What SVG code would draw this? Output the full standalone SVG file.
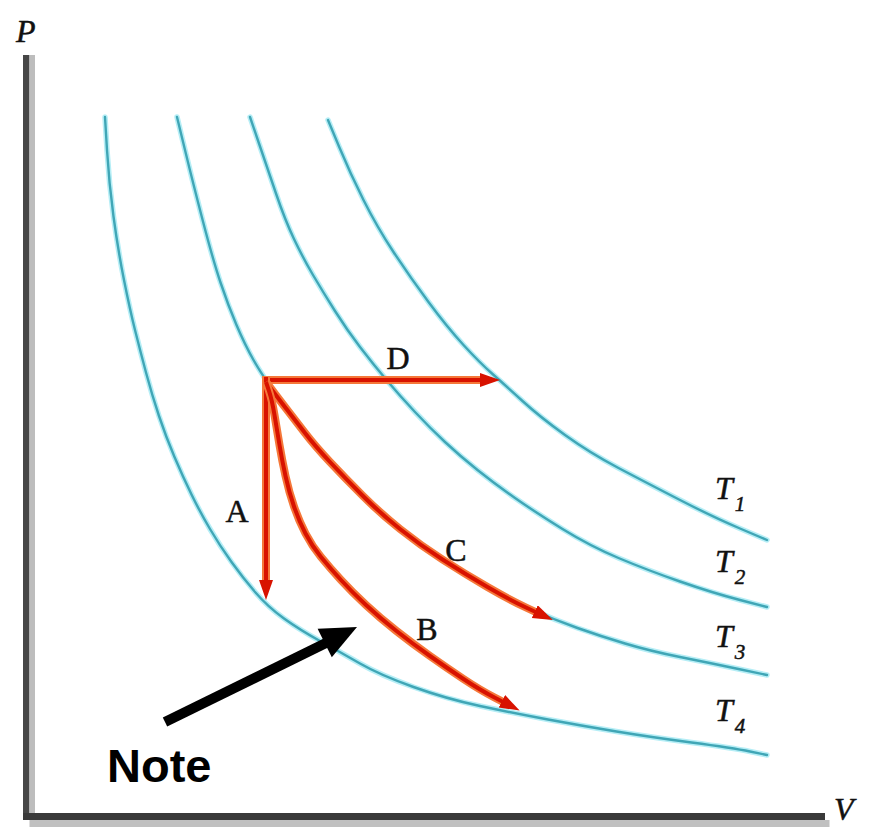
<svg xmlns="http://www.w3.org/2000/svg" width="876" height="831" viewBox="0 0 876 831">
<style>
.iso-halo{fill:none;stroke:#b6eef6;stroke-width:5.5;stroke-linejoin:round;stroke-linecap:round}
.iso{fill:none;stroke:#40a6b6;stroke-width:2.4;stroke-linejoin:round;stroke-linecap:round}
.proc-under{fill:none;stroke:#f5783a;stroke-width:8;stroke-linejoin:round}
.proc{fill:none;stroke:#d81200;stroke-width:4;stroke-linejoin:round}
.lbl{font-family:"Liberation Serif","Times New Roman",serif;font-size:32px;fill:#111;stroke:#111;stroke-width:0.5}
.it{font-style:italic}
.sub{font-size:21px}
.note{font-family:"Liberation Sans",Arial,sans-serif;font-weight:bold;font-size:47px;fill:#000}
</style>
<defs>
<marker id="ah" markerUnits="userSpaceOnUse" markerWidth="22" markerHeight="16" refX="8" refY="7" orient="auto">
<path d="M0,0 L20,7 L0,14 z" fill="#d81200"/>
</marker>
<path id="c4" d="M105,117 L107,150 Q109,183 113.5,216.5 Q118,250 124,280 Q130,310 135,330 Q140,350 146,372.5 Q152,395 159,416 Q166,437 174.5,457 Q183,477 191.5,494.5 Q200,512 210,529 Q220,546 231.5,562 Q243,578 255.5,592.5 Q268,607 284,618.5 Q300,630 320,641 Q340,652 360,663.5 Q380,675 413.5,687 Q447,699 480,706 Q513,713 548,719.5 Q583,726 616.5,731.5 Q650,737 691.5,742.5 Q733,748 750,751.5 L767,755"/>
<path id="c3" d="M177,117 L185,150 Q193,183 203,221.5 Q213,260 220.5,282.5 Q228,305 236.5,325 Q245,345 253.5,360 Q262,375 276,394.5 Q290,414 302.5,430 Q315,446 330,462 Q345,478 362.5,495.5 Q380,513 400,529 Q420,545 442.5,559.5 Q465,574 487.5,587 Q510,600 532.5,610 Q555,620 577.5,628 Q600,636 625,643.5 Q650,651 680,657 Q710,663 738.5,669 L767,675"/>
<path id="c2" d="M250,117 L258.5,142 Q267,167 276,193.5 Q285,220 294,239 Q303,258 313,275 Q323,292 335,311 Q347,330 360,347 Q373,364 386.5,380 Q400,396 415,412 Q430,428 445,442 Q460,456 477.5,470 Q495,484 515,498 Q535,512 562.5,529 Q590,546 618.5,558 Q647,570 680,581.5 Q713,593 740,600 L767,607"/>
<path id="c1" d="M328,120 L339,146.5 Q350,173 363.5,200 Q377,227 393.5,252 Q410,277 428.5,302 Q447,327 463.5,345 Q480,363 492.5,374 Q505,385 522.5,401 Q540,417 565,435 Q590,453 618.5,468 Q647,483 680,500 Q713,517 740,528.5 L767,540"/>
<path id="pC" d="M266,382 L272,390 Q278,398 286.5,409 Q295,420 305,433 Q315,446 330,462 Q345,478 362.5,495.5 Q380,513 400,529 Q420,545 442.5,559.5 Q465,574 487.5,587 Q510,600 526,607.5 L542,615"/>
<path id="pB" d="M266,382 L269,391 Q272,400 274.5,415 Q277,430 279.5,445 Q282,460 285.5,476 Q289,492 294,506.5 Q299,521 305.5,533.5 Q312,546 321,557 Q330,568 341,580 Q352,592 366,605 Q380,618 396.5,631 Q413,644 430,656 Q447,668 463.5,679 Q480,690 494.5,697.5 L509,705"/>
</defs>
<rect width="876" height="831" fill="#ffffff"/>

<g id="axes">
<rect x="23" y="55" width="6.5" height="765" fill="#464646"/>
<rect x="29.5" y="55" width="5.5" height="765" fill="#bdbdbd"/>
<rect x="23" y="813" width="802" height="7" fill="#3a3a3a"/>
<rect x="29.5" y="820" width="800" height="7" fill="#c0c0c0"/>
<text class="lbl it" x="16" y="42" font-size="38">P</text>
<text class="lbl it" x="834" y="820" font-size="32">V</text>
</g>

<g id="isotherm-T4">
<use href="#c4" class="iso-halo"/>
<use href="#c4" class="iso"/>
<text class="lbl it" x="715" y="721">T<tspan class="sub" dx="2" dy="12">4</tspan></text>
</g>
<g id="isotherm-T3">
<use href="#c3" class="iso-halo"/>
<use href="#c3" class="iso"/>
<text class="lbl it" x="715" y="647">T<tspan class="sub" dx="2" dy="12">3</tspan></text>
</g>
<g id="isotherm-T2">
<use href="#c2" class="iso-halo"/>
<use href="#c2" class="iso"/>
<text class="lbl it" x="715" y="572">T<tspan class="sub" dx="2" dy="12">2</tspan></text>
</g>
<g id="isotherm-T1">
<use href="#c1" class="iso-halo"/>
<use href="#c1" class="iso"/>
<text class="lbl it" x="715" y="499">T<tspan class="sub" dx="2" dy="12">1</tspan></text>
</g>

<g id="connectors">
<g id="process-D">
<polyline class="proc-under" points="262,380 488,380"/>
<polyline class="proc" points="262,380 488,380" marker-end="url(#ah)"/>
</g>
<g id="process-A">
<polyline class="proc-under" points="266,377 266,588"/>
<polyline class="proc" points="266,377 266,588" marker-end="url(#ah)"/>
</g>
<g id="process-C">
<use href="#pC" class="proc-under"/>
<path class="proc" d="M266,382 L272,390 Q278,398 286.5,409 Q295,420 305,433 Q315,446 330,462 Q345,478 362.5,495.5 Q380,513 400,529 Q420,545 442.5,559.5 Q465,574 487.5,587 Q510,600 526,607.5 L542,615" marker-end="url(#ah)"/>
</g>
<g id="process-B">
<use href="#pB" class="proc-under"/>
<path class="proc" d="M266,382 L269,391 Q272,400 274.5,415 Q277,430 279.5,445 Q282,460 285.5,476 Q289,492 294,506.5 Q299,521 305.5,533.5 Q312,546 321,557 Q330,568 341,580 Q352,592 366,605 Q380,618 396.5,631 Q413,644 430,656 Q447,668 463.5,679 Q480,690 494.5,697.5 L509,705" marker-end="url(#ah)"/>
</g>
<g id="note-arrow">
<line x1="165" y1="722" x2="330" y2="641" stroke="#000" stroke-width="10"/>
<polygon points="357,627 317.6,628.7 331.8,657.3" fill="#000"/>
</g>
</g>

<g id="labels">
<text class="lbl" x="398" y="369" text-anchor="middle">D</text>
<text class="lbl" x="237" y="522" text-anchor="middle">A</text>
<text class="lbl" x="456" y="561" text-anchor="middle">C</text>
<text class="lbl" x="427" y="640" text-anchor="middle">B</text>
</g>

<g id="note">
<text class="note" x="107" y="782">Note</text>
</g>
</svg>
